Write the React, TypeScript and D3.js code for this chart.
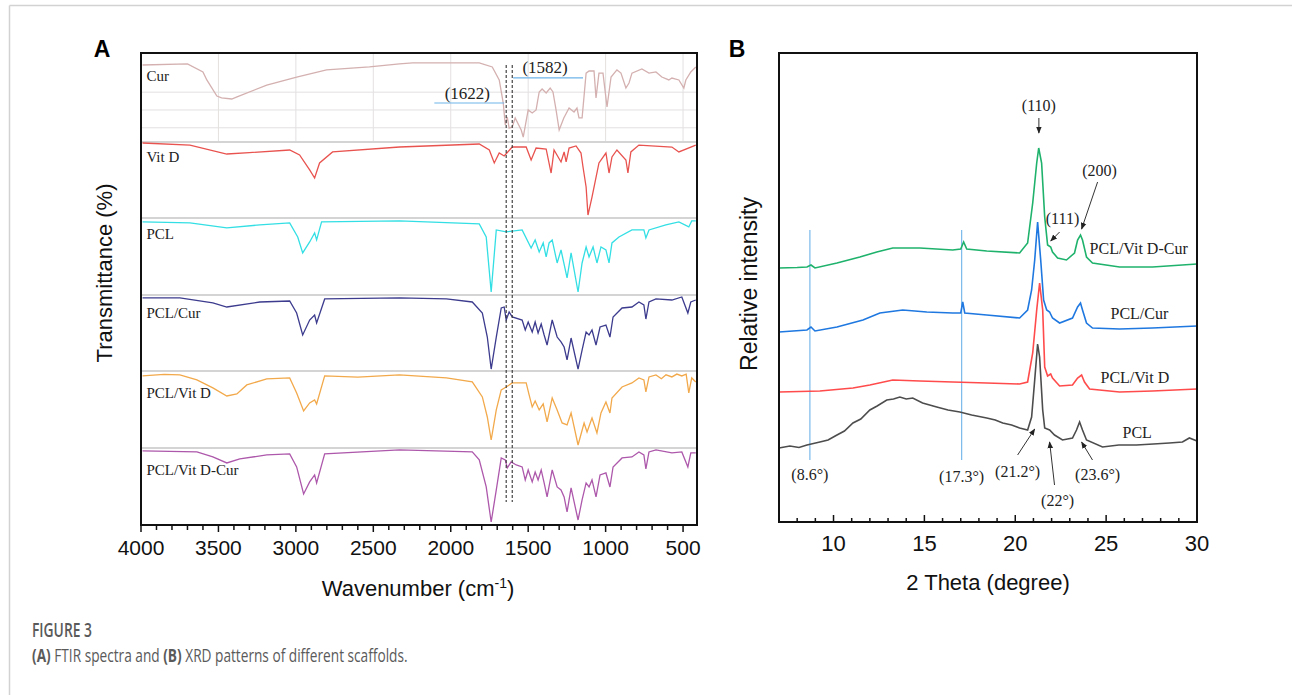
import React, { useRef, useEffect } from "react";
import * as d3 from "d3";

const width = 1292;
const height = 695;

// ---------- FTIR (panel A) data: [wavenumber, relative transmittance 0-100 inside each strip]
const ftirNames = ["Cur", "Vit D", "PCL", "PCL/Cur", "PCL/Vit D", "PCL/Vit D-Cur"];
const ftirColors = ["#d4b0b0", "#e8534f", "#33dfe4", "#3c3b8e", "#f2a94b", "#ad58ab"];
const ftirLabelT = [75, 80, 79, 76, 72, 72];

const curFtir: [number, number][] = [
  [3990, 86.5], [3700, 87.7], [3600, 78.7], [3575, 69.7], [3510, 51.7], [3480, 49.5], [3414, 48.3],
  [3380, 50.6], [3188, 64], [2995, 73], [2802, 81], [2525, 84.3], [2331, 87.7], [2247, 88.8],
  [1816, 88.8], [1732, 84.3], [1687, 69.7], [1661, 43.8], [1648, 19.1], [1635, 28.1], [1623, 15.7],
  [1603, 16.9], [1584, 27], [1545, 13.5], [1532, 5.6], [1500, 36], [1474, 32.6], [1449, 36],
  [1429, 56.2], [1410, 59.6], [1384, 55.1], [1358, 60.7], [1340, 56.2], [1320, 36], [1300, 13.5],
  [1270, 27], [1236, 38.2], [1204, 33.7], [1185, 38.2], [1172, 27], [1152, 27], [1126, 77.4],
  [1107, 79.8], [1075, 79.8], [1062, 49.5], [1043, 77.4], [1017, 77.4], [991, 39.3], [965, 73],
  [927, 81], [901, 77.4], [869, 60.7], [849, 66.3], [830, 77.4], [766, 82], [720, 77.4],
  [675, 78.7], [637, 73], [592, 69.7], [572, 71.9], [527, 69.7], [495, 60.7], [482, 69.7],
  [450, 78.7], [418, 84.3],
];

const vitDFtir: [number, number][] = [
  [3990, 98.7], [3684, 96], [3446, 84.2], [3300, 86], [3040, 89.5], [2976, 82.9], [2911, 63.2],
  [2879, 52.6], [2847, 72.4], [2763, 86.9], [2331, 93.4], [1816, 97.4], [1751, 89.5], [1719, 72.4],
  [1687, 85.5], [1655, 81.6], [1603, 93.4], [1513, 93.4], [1481, 76.3], [1449, 92.1], [1384, 90.8],
  [1352, 59.2], [1333, 89.5], [1288, 73.7], [1268, 86.9], [1255, 73.7], [1236, 92.1], [1191, 94.8],
  [1159, 85.5], [1146, 67.1], [1126, 40.8], [1114, 3.9], [1088, 27.6], [1043, 72.4], [998, 85.5],
  [978, 59.2], [959, 80.3], [927, 89.5], [869, 76.3], [856, 59.2], [837, 86.9], [785, 96],
  [572, 93.4], [527, 86.9], [418, 96],
];

const pclFtir: [number, number][] = [
  [3990, 94.9], [3684, 93.6], [3446, 87.1], [3233, 91], [3040, 93.6], [2988, 75.4], [2956, 54.6],
  [2911, 68.9], [2879, 80.6], [2866, 71.5], [2834, 94.9], [2331, 96.2], [1816, 92.3], [1771, 75.4],
  [1739, 3.9], [1706, 84.5], [1642, 81.9], [1539, 84.5], [1481, 61.1], [1455, 71.5], [1429, 55.9],
  [1403, 67.6], [1384, 49.4], [1365, 67.6], [1345, 71.5], [1313, 41.6], [1288, 58.5], [1249, 22.1],
  [1223, 54.6], [1178, 3.9], [1152, 41.6], [1126, 62.4], [1107, 49.4], [1081, 62.4], [1056, 41.6],
  [1030, 62.4], [998, 58.5], [978, 41.6], [959, 67.6], [914, 75.4], [830, 84.5], [753, 84.5],
  [740, 74.1], [720, 84.5], [611, 91], [527, 94.9], [463, 88.4], [444, 96.2], [418, 96.2],
];

const pclCurFtir: [number, number][] = [
  [3990, 96.1], [3749, 96.1], [3536, 89.5], [3446, 84.2], [3233, 90.8], [3040, 92.1], [2995, 76.3],
  [2956, 47.4], [2911, 67.1], [2879, 73.7], [2866, 63.2], [2814, 94.8], [2331, 96.1], [2028, 94.8],
  [1861, 90.8], [1796, 76.3], [1764, 44.7], [1739, 2.6], [1706, 44.7], [1674, 82.9], [1655, 84.2],
  [1642, 67.1], [1623, 77.6], [1603, 71.1], [1539, 67.1], [1519, 54], [1500, 64.5], [1474, 51.3],
  [1455, 64.5], [1436, 50], [1416, 61.8], [1397, 47.4], [1378, 34.2], [1345, 67.1], [1313, 44.7],
  [1288, 38.2], [1268, 31.6], [1249, 14.5], [1223, 43.4], [1178, 2.6], [1152, 27.6], [1126, 51.3],
  [1107, 47.4], [1088, 54], [1062, 34.2], [1036, 57.9], [998, 60.5], [972, 44.7], [952, 71.1],
  [894, 82.9], [830, 84.2], [785, 90.8], [753, 86.9], [740, 68.4], [720, 90.8], [675, 94.8],
  [572, 93.4], [508, 97.4], [469, 76.3], [450, 90.8], [418, 93.4],
];

const pclVitDFtir: [number, number][] = [
  [3990, 93.6], [3850, 95.5], [3749, 94.9], [3639, 88.4], [3536, 78], [3446, 67.6], [3381, 70.2],
  [3317, 81.9], [3188, 89.7], [3040, 91], [2995, 71.5], [2950, 48.1], [2911, 58.5], [2879, 62.4],
  [2866, 57.2], [2814, 93.6], [2600, 92], [2331, 94.9], [2028, 91], [1861, 85.8], [1796, 66.3],
  [1764, 40.3], [1739, 10.4], [1706, 49.4], [1674, 75.4], [1642, 79.3], [1603, 84.5], [1513, 84.5],
  [1494, 68.9], [1474, 53.3], [1455, 61.1], [1429, 49.4], [1403, 57.2], [1378, 33.8], [1345, 65],
  [1313, 49.4], [1281, 32.5], [1249, 29.9], [1223, 45.5], [1178, 3.9], [1139, 32.5], [1120, 20.8],
  [1088, 39], [1056, 19.5], [1030, 45.5], [998, 59.8], [972, 45.5], [959, 65], [894, 79.3],
  [830, 84.5], [785, 91], [753, 88.4], [740, 72.8], [720, 92.3], [675, 94.9], [640, 90],
  [610, 95], [572, 92.3], [540, 96], [508, 93.6], [480, 96], [463, 71.5], [444, 91], [418, 85.8],
];

const pclVitDCurFtir: [number, number][] = [
  [3990, 96.2], [3639, 94.9], [3536, 88.4], [3446, 80.6], [3362, 85.8], [3188, 91], [3040, 92.3],
  [2995, 75.4], [2950, 40.3], [2911, 55.9], [2879, 65], [2866, 54.6], [2814, 92.3], [2331, 97.5],
  [1861, 94.9], [1816, 84.5], [1771, 49.4], [1739, 3.9], [1706, 45.5], [1674, 87.1], [1648, 84.5],
  [1635, 74.1], [1610, 81.9], [1577, 78], [1539, 75.4], [1519, 58.5], [1500, 71.5], [1474, 55.9],
  [1455, 68.9], [1436, 58.5], [1416, 71.5], [1397, 54.6], [1378, 36.4], [1345, 71.5], [1313, 49.4],
  [1288, 45.5], [1268, 36.4], [1249, 16.9], [1223, 48.1], [1178, 6.5], [1152, 32.5], [1126, 54.6],
  [1107, 49.4], [1088, 58.5], [1062, 36.4], [1036, 65], [998, 67.6], [972, 49.4], [952, 75.4],
  [894, 87.1], [830, 88.4], [785, 94.9], [753, 91], [740, 72.8], [720, 94.9], [675, 97.5],
  [572, 93.6], [508, 94.9], [469, 75.4], [450, 93.6], [418, 93.6],
];

const ftirSeries = [curFtir, vitDFtir, pclFtir, pclCurFtir, pclVitDFtir, pclVitDCurFtir];
const curGridT = [16, 36, 56];

// ---------- XRD (panel B) data: [2theta, intensity a.u. with stacking offset]
const xrdNames = ["PCL/Vit D-Cur", "PCL/Cur", "PCL/Vit D", "PCL"];
const xrdColors = ["#1fb26c", "#1f78e0", "#ff4b4b", "#4d4d4d"];
const xrdLabelPos: [number, number][] = [[24.09, 548], [25.24, 418], [24.69, 290], [25.9, 180]];

const xrdVitDCur: [number, number][] = [
  [7.0, 508], [8.0, 509], [8.54, 510], [8.76, 514], [8.98, 508], [10.19, 518], [11.45, 530],
  [12.38, 540], [13.26, 548], [14.75, 548], [16.56, 544], [17.0, 546], [17.16, 560], [17.33, 546],
  [18.43, 542], [20.24, 538], [20.68, 558], [20.96, 638], [21.18, 718], [21.29, 748], [21.45, 718],
  [21.62, 610], [21.78, 554], [21.95, 550], [22.05, 540], [22.33, 528], [22.82, 524], [23.26, 538],
  [23.43, 564], [23.59, 574], [23.7, 564], [23.92, 530], [24.25, 518], [25.74, 510], [27.55, 510],
  [30.0, 516],
];
const xrdCur: [number, number][] = [
  [7.0, 380], [8.54, 384], [8.76, 390], [8.98, 382], [10.19, 390], [11.62, 404], [12.55, 418],
  [13.81, 424], [15.13, 420], [16.56, 418], [17.0, 418], [17.11, 440], [17.22, 418], [18.43, 414],
  [20.24, 408], [20.68, 424], [20.9, 464], [21.07, 524], [21.23, 600], [21.4, 524], [21.56, 444],
  [21.73, 424], [21.89, 420], [22.05, 408], [22.44, 398], [23.15, 408], [23.43, 430], [23.59, 438],
  [23.7, 424], [23.92, 398], [24.25, 388], [25.74, 386], [27.55, 388], [30.0, 392],
];
const xrdVitD: [number, number][] = [
  [7.0, 260], [9.25, 262], [11.07, 268], [12.0, 274], [13.26, 284], [14.75, 282], [16.56, 280],
  [18.43, 278], [20.24, 276], [20.68, 280], [20.96, 338], [21.18, 424], [21.34, 478], [21.51, 424],
  [21.62, 310], [21.78, 292], [21.95, 296], [22.05, 288], [22.44, 272], [23.15, 274], [23.43, 288],
  [23.65, 294], [23.81, 280], [24.09, 266], [25.74, 260], [27.55, 262], [30.0, 266],
];
const xrdPcl: [number, number][] = [
  [7.0, 148], [7.6, 152], [8.1, 149], [8.54, 154], [9.25, 160], [9.7, 164], [10.19, 174],
  [10.6, 182], [11.07, 198], [11.5, 206], [12.0, 224], [12.4, 232], [12.93, 244], [13.3, 246],
  [13.65, 250], [14.0, 246], [14.36, 248], [14.9, 238], [15.68, 230], [16.3, 224], [16.95, 220],
  [17.6, 214], [18.43, 208], [18.9, 204], [19.31, 198], [19.8, 194], [20.24, 188], [20.68, 184],
  [20.9, 210], [21.07, 284], [21.23, 356], [21.34, 330], [21.51, 224], [21.62, 188], [21.89, 184],
  [22.16, 174], [22.6, 164], [23.15, 168], [23.37, 184], [23.54, 200], [23.7, 184], [23.92, 164],
  [24.8, 150], [25.7, 154], [26.67, 154], [27.6, 156], [28.48, 158], [29.2, 160], [29.58, 168],
  [30.0, 162],
];
const xrdSeries = [xrdVitDCur, xrdCur, xrdVitD, xrdPcl];

const xrdMarkers = [8.7, 17.05];
const xrdAngleLabels: { text: string; at: [number, number] }[] = [
  { text: "(8.6°)", at: [8.7, 96] },
  { text: "(17.3°)", at: [17.05, 92] },
  { text: "(21.2°)", at: [20.13, 102] },
  { text: "(22°)", at: [22.33, 44] },
  { text: "(23.6°)", at: [24.53, 96] },
  { text: "(110)", at: [21.3, 834] },
  { text: "(200)", at: [24.64, 704] },
  { text: "(111)", at: [22.6, 608] },
];
const xrdArrows: [[number, number], [number, number]][] = [
  [[21.3, 808], [21.3, 778]],
  [[24.53, 680], [23.65, 586]],
  [[22.44, 580], [21.95, 562]],
  [[20.13, 134], [21.07, 186]],
  [[22.16, 74], [21.89, 160]],
  [[24.25, 124], [23.65, 160]],
];

// ---------- layout
const aBox = { left: 141, right: 697, top: 53, bottom: 525 };
const stripEdges = [53, 142, 218, 295, 371, 448, 525];
const bBox = { left: 779, right: 1197, top: 53, bottom: 522 };

const xA = d3.scaleLinear().domain([4000, 410]).range([aBox.left, aBox.right]);
const stripY = ftirNames.map((_, i) =>
  d3.scaleLinear().domain([0, 100]).range([stripEdges[i + 1], stripEdges[i]])
);
const xB = d3.scaleLinear().domain([7, 30]).range([bBox.left, bBox.right]);
const yB = d3.scaleLinear().domain([0, 940]).range([bBox.bottom, bBox.bottom - 470]);

const serif = "'Liberation Serif', 'Times New Roman', serif";
const sans = "'Liberation Sans', Arial, sans-serif";
const captionFont = "'Open Sans', sans-serif";

export default function App() {
  const cap1 = useRef<SVGTextElement>(null);
  const cap2 = useRef<SVGTextElement>(null);

  // squeeze caption lines to the condensed width of the original
  useEffect(() => {
    const fit = (el: SVGTextElement | null, target: number) => {
      if (!el) return;
      const w = el.getBBox().width;
      if (w > 0) el.setAttribute("transform", `translate(32,0) scale(${target / w},1)`);
    };
    fit(cap1.current, 60);
    fit(cap2.current, 376);
  }, []);

  const majorA = d3.range(4000, 400, -500);
  const minorA = d3.range(4000, 400, -100);
  const majorB = [10, 15, 20, 25, 30];
  const minorB = d3.range(7, 31, 1);

  const dashTop = stripY[0](86.5);
  const dashBottom = stripY[5](30);

  return (
    <svg width={width} height={height} style={{ position: "absolute", left: 0, top: 0 }}>
      <defs>
        <marker id="arr" viewBox="0 0 10 10" refX="9" refY="5" markerWidth="7" markerHeight="7" orient="auto">
          <path d="M0,1 L10,5 L0,9 z" fill="#222" />
        </marker>
      </defs>
      <rect width={width} height={height} fill="#fff" />
      {/* page frame */}
      <line x1={9.5} x2={width} y1={5.5} y2={5.5} stroke="#d2d2d2" strokeWidth={1.5} />
      <line x1={9.5} x2={9.5} y1={5.5} y2={height} stroke="#d2d2d2" strokeWidth={1.5} />

      {/* ===== Panel A ===== */}
      <text x={102} y={57} fontFamily={sans} fontWeight="bold" fontSize={23} textAnchor="middle">A</text>

      {/* Cur strip grid */}
      {majorA.slice(1).map((t) => (
        <line key={"cg" + t} x1={xA(t)} x2={xA(t)} y1={stripEdges[0]} y2={stripEdges[1]} stroke="#e3e0e0" strokeWidth={1} />
      ))}
      {curGridT.map((t) => (
        <line key={"ch" + t} x1={aBox.left} x2={aBox.right} y1={stripY[0](t)} y2={stripY[0](t)} stroke="#e3e0e0" strokeWidth={1} />
      ))}

      {/* strip separators */}
      {stripEdges.slice(1, -1).map((y) => (
        <line key={"sep" + y} x1={aBox.left} x2={aBox.right} y1={y} y2={y} stroke="#d4d4d4" strokeWidth={2} />
      ))}

      {ftirSeries.map((s, i) => {
        const line = d3
          .line<[number, number]>()
          .x((d) => xA(d[0]))
          .y((d) => stripY[i](d[1]));
        return <path key={"ft" + i} d={line(s) || ""} fill="none" stroke={ftirColors[i]} strokeWidth={1.3} />;
      })}

      {ftirNames.map((n, i) => (
        <text key={"fl" + i} x={xA(3965)} y={stripY[i](ftirLabelT[i])} dy="0.35em" fontFamily={serif} fontSize={15} fill="#222">
          {n}
        </text>
      ))}

      {/* dashed markers */}
      {[1642, 1603].map((w) => (
        <line key={"dl" + w} x1={xA(w)} x2={xA(w)} y1={dashTop} y2={dashBottom} stroke="#333" strokeWidth={1.1} strokeDasharray="3,2" />
      ))}
      <line x1={xA(2106)} x2={xA(1655)} y1={stripY[0](43.8)} y2={stripY[0](43.8)} stroke="#6fb3ea" strokeWidth={1.2} />
      <line x1={xA(1597)} x2={xA(1146)} y1={stripY[0](72)} y2={stripY[0](72)} stroke="#6fb3ea" strokeWidth={1.2} />
      <text x={xA(1893)} y={stripY[0](55)} dy="0.35em" textAnchor="middle" fontFamily={serif} fontSize={17} fill="#222">(1622)</text>
      <text x={xA(1391)} y={stripY[0](84.3)} dy="0.35em" textAnchor="middle" fontFamily={serif} fontSize={17} fill="#222">(1582)</text>

      {/* A axes */}
      <rect x={aBox.left} y={aBox.top} width={aBox.right - aBox.left} height={aBox.bottom - aBox.top} fill="none" stroke="#111" strokeWidth={2} />
      {minorA.map((t) => (
        <line key={"ma" + t} x1={xA(t)} x2={xA(t)} y1={aBox.bottom} y2={aBox.bottom + (t % 500 === 0 ? 7 : 5)} stroke="#111" strokeWidth={1.5} />
      ))}
      {majorA.map((t) => (
        <text key={"ta" + t} x={xA(t)} y={aBox.bottom + 23} dy="0.35em" textAnchor="middle" fontFamily={sans} fontSize={21} fill="#111">
          {t}
        </text>
      ))}
      <text x={418} y={588} dy="0.35em" textAnchor="middle" fontFamily={sans} fontSize={22} fill="#111">
        Wavenumber (cm<tspan dy="-8" fontSize={14}>-1</tspan><tspan dy="8">)</tspan>
      </text>
      <text transform="translate(104,273) rotate(-90)" dy="0.35em" textAnchor="middle" fontFamily={sans} fontSize={22} fill="#111">
        Transmittance (%)
      </text>

      {/* ===== Panel B ===== */}
      <text x={737} y={57} fontFamily={sans} fontWeight="bold" fontSize={23} textAnchor="middle">B</text>

      {xrdMarkers.map((m) => (
        <line key={"xm" + m} x1={xB(m)} x2={xB(m)} y1={yB(584)} y2={yB(124)} stroke="#79b8ea" strokeWidth={1.2} />
      ))}

      {xrdSeries.map((s, i) => {
        const line = d3
          .line<[number, number]>()
          .x((d) => xB(d[0]))
          .y((d) => yB(d[1]));
        return <path key={"xr" + i} d={line(s) || ""} fill="none" stroke={xrdColors[i]} strokeWidth={1.6} />;
      })}

      {xrdNames.map((n, i) => (
        <text key={"xl" + i} x={xB(xrdLabelPos[i][0])} y={yB(xrdLabelPos[i][1])} dy="0.35em" fontFamily={serif} fontSize={16} fill="#222">
          {n}
        </text>
      ))}

      {xrdAngleLabels.map((a) => (
        <text key={a.text} x={xB(a.at[0])} y={yB(a.at[1])} dy="0.35em" textAnchor="middle" fontFamily={serif} fontSize={16} fill="#222">
          {a.text}
        </text>
      ))}
      {xrdArrows.map(([p, q], i) => (
        <line key={"ar" + i} x1={xB(p[0])} y1={yB(p[1])} x2={xB(q[0])} y2={yB(q[1])} stroke="#333" strokeWidth={1} markerEnd="url(#arr)" />
      ))}

      <rect x={bBox.left} y={bBox.top} width={bBox.right - bBox.left} height={bBox.bottom - bBox.top} fill="none" stroke="#111" strokeWidth={2} />
      {minorB.map((t) => (
        <line key={"mb" + t} x1={xB(t)} x2={xB(t)} y1={bBox.bottom} y2={bBox.bottom - (t % 5 === 0 ? 7 : 4)} stroke="#111" strokeWidth={1.5} />
      ))}
      {majorB.map((t) => (
        <text key={"tb" + t} x={xB(t)} y={bBox.bottom + 21} dy="0.35em" textAnchor="middle" fontFamily={sans} fontSize={22} fill="#111">
          {t}
        </text>
      ))}
      <text x={988} y={582} dy="0.35em" textAnchor="middle" fontFamily={sans} fontSize={22} fill="#111">
        2 Theta (degree)
      </text>
      <text transform="translate(749,284) rotate(-90)" dy="0.35em" textAnchor="middle" fontFamily={sans} fontSize={23} fill="#111">
        Relative intensity
      </text>

      {/* caption */}
      <text ref={cap1} x={0} y={637} fontFamily={captionFont} fontWeight={600} fontSize={19} fill="#5a5a5a">
        FIGURE 3
      </text>
      <text ref={cap2} x={0} y={662} fontFamily={captionFont} fontSize={18} fill="#5a5a5a">
        <tspan fontWeight="bold">(A)</tspan> FTIR spectra and <tspan fontWeight="bold">(B)</tspan> XRD patterns of different scaffolds.
      </text>
    </svg>
  );
}
